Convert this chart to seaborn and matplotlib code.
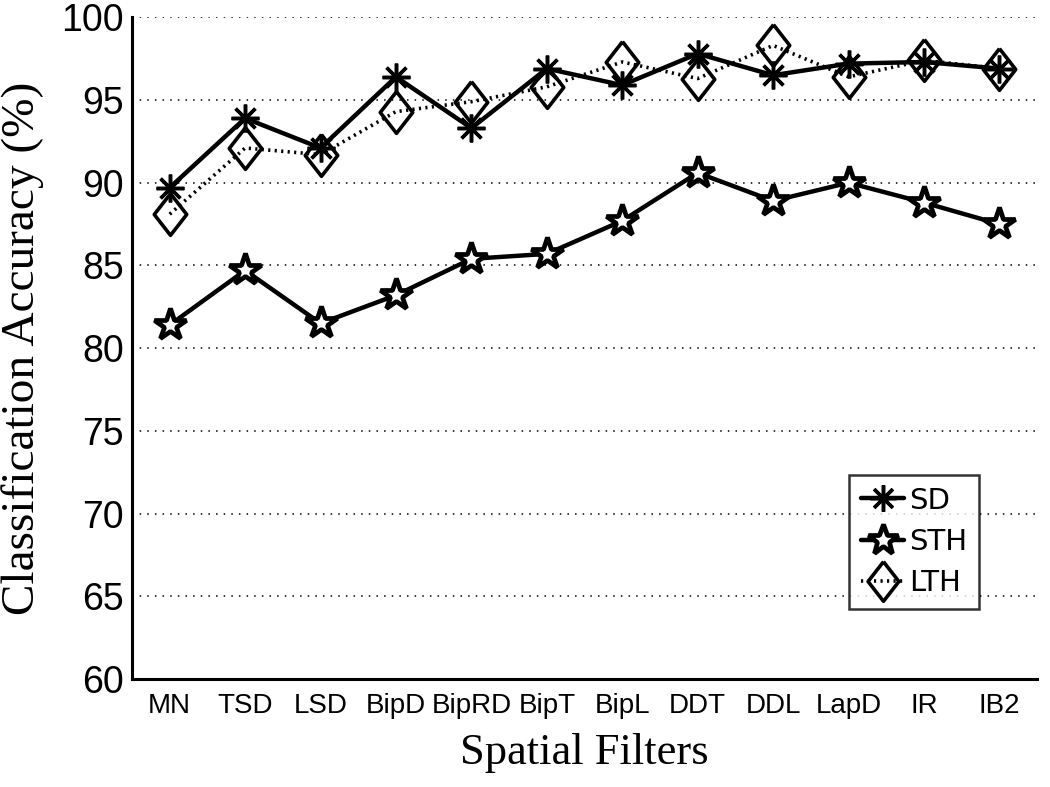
import numpy as np
import pandas as pd
import matplotlib
matplotlib.use("Agg")
import matplotlib.pyplot as plt
import seaborn as sns

# data
filters = ["MN", "TSD", "LSD", "BipD", "BipRD", "BipT", "BipL", "DDT", "DDL", "LapD", "IR", "IB2"]
sd = [89.7, 93.9, 92.1, 96.4, 93.3, 96.9, 95.9, 97.8, 96.5, 97.2, 97.3, 96.9]
sth = [81.4, 84.7, 81.5, 83.2, 85.4, 85.7, 87.7, 90.6, 88.9, 90.0, 88.8, 87.5]
lth = [88.1, 92.1, 91.7, 94.3, 94.9, 95.8, 97.3, 96.3, 98.3, 96.4, 97.4, 96.9]
yticks = [60, 65, 70, 75, 80, 85, 90, 95, 100]

sns.set_style("white")
plt.rcParams["font.family"] = ["Liberation Sans", "DejaVu Sans"]
plt.rcParams["text.color"] = "black"
plt.rcParams["axes.labelcolor"] = "black"

fig = plt.figure(figsize=(10.5, 7.87), dpi=100)
ax = fig.add_axes([0.1257, 0.1372, 0.862, 0.8408])

pos = np.arange(len(filters))
df = pd.DataFrame({"pos": pos, "SD": sd, "STH": sth, "LTH": lth})

# tall diamond like matlab's 'd'
diamond = [(0, 1), (0.78, 0), (0, -1), (-0.78, 0), (0, 1)]

sns.lineplot(data=df, x="pos", y="SD", ax=ax, color="black", lw=3.2,
             marker=(8, 2, 0), markersize=20, markeredgewidth=2.5,
             markeredgecolor="black", label="SD")
sns.lineplot(data=df, x="pos", y="STH", ax=ax, color="black", lw=3.2,
             marker="*", markersize=24, markerfacecolor="white",
             markeredgewidth=3.4, markeredgecolor="black", label="STH")
sns.lineplot(data=df, x="pos", y="LTH", ax=ax, color="black", lw=2.6,
             linestyle=(0, (0.6, 1.2)), marker=diamond, markersize=30,
             markerfacecolor="none", markeredgewidth=2.6,
             markeredgecolor="black", label="LTH")

ax.set_xlim(-0.5, 11.5)
ax.set_ylim(60, 100)
ax.set_xticks(pos)
ax.set_xticklabels(filters, fontsize=20)
ax.set_yticks(yticks)
ax.set_yticklabels([str(v) for v in yticks], fontsize=27)
ax.tick_params(axis="both", direction="in", length=6, width=1.2, colors="black")
ax.tick_params(axis="x", pad=10)
ax.tick_params(axis="y", pad=6)

for y in yticks[1:]:
    ax.axhline(y, color="black", lw=1.1, linestyle=(0, (1, 4)), zorder=0)

for s in ["top", "right"]:
    ax.spines[s].set_visible(False)
for s in ["left", "bottom"]:
    ax.spines[s].set_color("black")
    ax.spines[s].set_linewidth(2.2)

ax.set_xlabel("Spatial Filters", fontsize=32, family=["Liberation Serif"], labelpad=10)
ax.set_ylabel("Classification Accuracy (%)", fontsize=34, family=["Liberation Serif"], labelpad=12)

leg = ax.legend(loc="upper left", bbox_to_anchor=(849 / 1050, 1 - 475 / 787),
                bbox_transform=fig.transFigure, frameon=True, fancybox=False,
                prop={"family": "DejaVu Sans", "size": 21}, handlelength=1.5,
                handletextpad=0.15, borderpad=0.4, labelspacing=0.45,
                borderaxespad=0, markerscale=0.95)
leg.get_frame().set_edgecolor("black")
leg.get_frame().set_linewidth(1.8)

fig.savefig("out.png", dpi=100)
